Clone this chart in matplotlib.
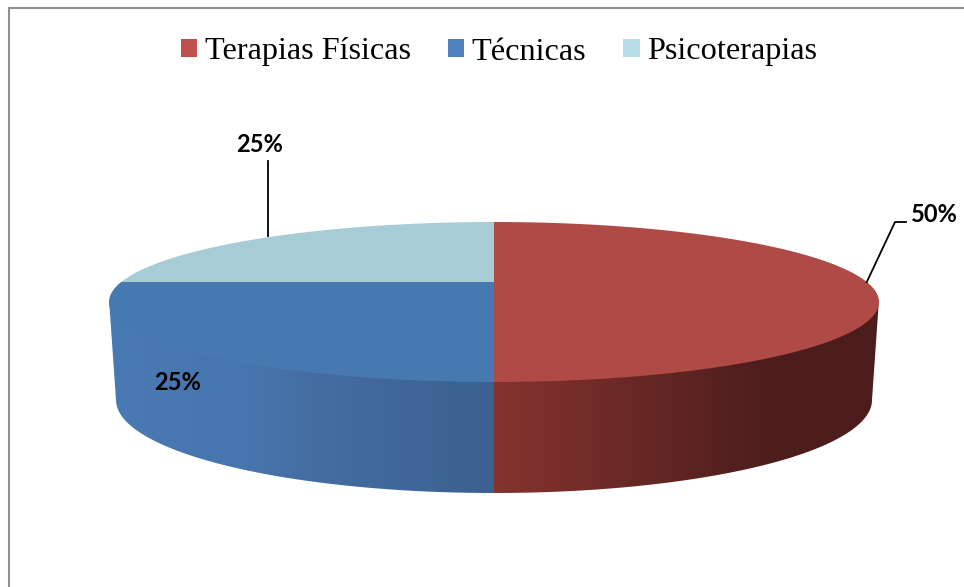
import numpy as np
import matplotlib
matplotlib.use("Agg")
import matplotlib.pyplot as plt
from matplotlib.colors import LinearSegmentedColormap
from matplotlib.patches import Patch, Polygon, Rectangle

labels = ["Terapias Físicas", "Técnicas", "Psicoterapias"]
values = [50, 25, 25]
value_labels = ["50%", "25%", "25%"]

legend_colors = ["#c0504d", "#4f81bd", "#b7dde8"]
top_colors = ["#af4a46", "#4878b0", "#a8ccd5"]
side_colors = [[(0, "#85332f"), (0.72, "#4c1d1c"), (1, "#4c1d1c")],
               [(0, "#4a7ab4"), (0.35, "#4775ad"), (0.6, "#436b9f"), (1, "#3c618f")],
               None]

# pie geometry in pixels
cx = 494
apex_y = 282
top_y, top_a, top_b = 302, 385, 80
bot_y, bot_a, bot_b = 400, 378, 93


def rim_phi(theta):
    # pie angle (clockwise from top) -> ellipse parameter, the apex sits off centre
    dx, dy = np.sin(theta), -np.cos(theta)
    v0 = (apex_y - top_y) / top_b
    s = -v0*dy + np.sqrt((v0*dy)**2 - v0**2 + 1)
    return np.arctan2(s*dx, -(v0 + s*dy))


def rim(phi, a=top_a, b=top_b, y0=top_y):
    return cx + a*np.sin(phi), y0 - b*np.cos(phi)


fig = plt.figure(figsize=(9.64, 5.87), dpi=100)
ax = fig.add_axes([0, 0, 1, 1])

ax.add_patch(Rectangle((8.5, 7.5), 1100, 1100, fc="white", ec="#8f8f8f", lw=1.5))

edges = np.cumsum([0] + values) / sum(values) * 2*np.pi
anchors = []
for i in range(len(values)):
    p0, p1 = rim_phi(edges[i]), rim_phi(edges[i+1])
    if p0 < 0:
        p0 += 2*np.pi
    if p1 <= 0:
        p1 += 2*np.pi
    anchors.append(rim(rim_phi((edges[i] + edges[i+1])/2)))

    # side wall only for the part of the rim facing us
    f0, f1 = max(p0, np.pi/2), min(p1, 3*np.pi/2)
    if side_colors[i] is not None and f1 > f0:
        phi = np.linspace(f0, f1, 100)
        tx, ty = rim(phi)
        ty = ty - 3  # tuck under the top so no white seam shows
        bx, by = rim(phi, bot_a, bot_b, bot_y)
        pts = np.column_stack([np.r_[tx, bx[::-1]], np.r_[ty, by[::-1]]])
        poly = Polygon(pts, closed=True, fc="none", ec="none", zorder=2)
        ax.add_patch(poly)
        cmap = LinearSegmentedColormap.from_list("side", side_colors[i])
        img = ax.imshow(np.linspace(0, 1, 256).reshape(1, -1), cmap=cmap, aspect="auto",
                        extent=[pts[:, 0].min(), pts[:, 0].max(), pts[:, 1].max(), pts[:, 1].min()],
                        interpolation="bilinear", zorder=2)
        img.set_clip_path(poly)

for i in range(len(values)):
    p0, p1 = rim_phi(edges[i]), rim_phi(edges[i+1])
    if p0 < 0:
        p0 += 2*np.pi
    if p1 <= 0:
        p1 += 2*np.pi
    phi = np.linspace(p0, p1, 200)
    tx, ty = rim(phi)
    ax.fill(np.r_[cx, tx], np.r_[apex_y, ty], color=top_colors[i], lw=0, zorder=3)

# leaders and value labels
ax.plot([anchors[0][0], 895, 906], [anchors[0][1], 222, 222], color="black", lw=1.3, zorder=4)
ax.plot([268, 268], [anchors[2][1], 161], color="black", lw=1.3, zorder=4)
label_pos = [(934, 215), (178, 383), (260, 145)]
for txt, (x, y) in zip(value_labels, label_pos):
    ax.text(x, y, txt, ha="center", va="center", fontsize=17, fontweight="bold",
            family="Lato", color="black", zorder=5)

handles = [Patch(fc=c, ec="none") for c in legend_colors]
ax.legend(handles, labels, ncol=3, loc="center", bbox_to_anchor=(499/964, 1 - 52/587),
          frameon=False, prop={"family": "Liberation Serif", "size": 23.2},
          handlelength=0.5, handleheight=0.5, handletextpad=0.23, columnspacing=1.16,
          borderpad=0, borderaxespad=0)

ax.set_xlim(0, 964)
ax.set_ylim(587, 0)
ax.axis("off")
fig.savefig("out.png", dpi=100)
